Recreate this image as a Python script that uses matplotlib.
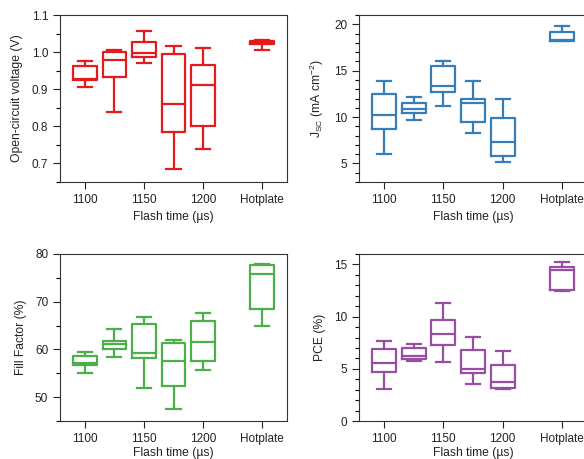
import matplotlib
matplotlib.use("Agg")
import matplotlib.pyplot as plt
from matplotlib.ticker import MultipleLocator, FormatStrFormatter

plt.rcParams['font.family'] = ['Liberation Sans', 'DejaVu Sans']

# categories
positions = [1100, 1125, 1150, 1175, 1200, 1250]
tick_pos = [1100, 1150, 1200, 1250]
tick_labels = ['1100', '1150', '1200', 'Hotplate']

# Open-circuit voltage (V)
voc_lo = [0.906, 0.839, 0.972, 0.684, 0.739, 1.007]
voc_q1 = [0.924, 0.932, 0.986, 0.785, 0.801, 1.023]
voc_med = [0.928, 0.980, 0.998, 0.861, 0.911, 1.026]
voc_q3 = [0.962, 0.999, 1.028, 0.994, 0.965, 1.030]
voc_hi = [0.976, 1.006, 1.057, 1.017, 1.010, 1.032]

# Jsc (mA cm-2)
jsc_lo = [5.98, 9.67, 11.2, 8.26, 5.14, 18.15]
jsc_q1 = [8.70, 10.47, 12.68, 9.42, 5.76, 18.25]
jsc_med = [10.22, 10.9, 13.37, 11.49, 7.32, 18.35]
jsc_q3 = [12.46, 11.52, 15.47, 11.92, 9.93, 19.13]
jsc_hi = [13.84, 12.14, 16.09, 13.88, 11.96, 19.82]

# Fill factor (%)
ff_lo = [55.05, 58.43, 51.9, 47.6, 55.6, 64.89]
ff_q1 = [56.67, 60.11, 58.29, 52.24, 57.51, 68.48]
ff_med = [57.16, 61.1, 59.34, 57.51, 61.52, 75.71]
ff_q3 = [58.57, 61.73, 65.31, 61.38, 66.0, 77.75]
ff_hi = [59.48, 64.19, 66.72, 62.08, 67.7, 77.82]

# PCE (%)
pce_lo = [3.02, 5.72, 5.68, 3.5, 3.05, 12.49]
pce_q1 = [4.69, 5.94, 7.29, 4.56, 3.18, 12.59]
pce_med = [5.52, 6.23, 8.32, 4.95, 3.76, 14.5]
pce_q3 = [6.87, 7.0, 9.70, 6.81, 5.36, 14.74]
pce_hi = [7.68, 7.35, 11.31, 8.09, 6.74, 15.22]

W, H = 584, 459
fig = plt.figure(figsize=(W / 100, H / 100), dpi=100)


def axpix(l, r, t, b):
    return fig.add_axes([l / W, (H - b) / H, (r - l) / W, (b - t) / H])


def panel(ax, lo, q1, med, q3, hi, color, ylim, major, minor, ylabel, xpad=4):
    stats = [dict(whislo=a, q1=b, med=c, q3=d, whishi=e, fliers=[])
             for a, b, c, d, e in zip(lo, q1, med, q3, hi)]
    lw = 1.6
    ax.bxp(stats, positions=positions, widths=20, showfliers=False,
           boxprops=dict(color=color, linewidth=lw),
           medianprops=dict(color=color, linewidth=lw),
           whiskerprops=dict(color=color, linewidth=lw),
           capprops=dict(color=color, linewidth=lw),
           capwidths=12, manage_ticks=False)
    ax.set_xlim(1079, 1271)
    ax.set_ylim(*ylim)
    ax.set_xticks(tick_pos)
    ax.set_xticklabels(tick_labels)
    ax.yaxis.set_major_locator(MultipleLocator(major))
    ax.yaxis.set_minor_locator(MultipleLocator(minor))
    ax.tick_params(axis='both', which='major', direction='out', length=5,
                   width=0.8, labelsize=8.5, colors='#222222')
    ax.tick_params(axis='y', which='minor', direction='out', length=3, width=0.8)
    ax.tick_params(axis='x', which='minor', bottom=False)
    for s in ax.spines.values():
        s.set_linewidth(0.8)
        s.set_color('#333333')
    ax.set_xlabel('Flash time (µs)', fontsize=8.7, color='#222222', labelpad=xpad)
    ax.set_ylabel(ylabel, fontsize=8.7, color='#222222', labelpad=6)


ax1 = axpix(60, 287, 15, 182)
panel(ax1, voc_lo, voc_q1, voc_med, voc_q3, voc_hi, '#e41a1c', (0.65, 1.1), 0.1, 0.05,
      'Open-circuit voltage (V)')
ax1.yaxis.set_major_formatter(FormatStrFormatter('%.1f'))

ax2 = axpix(359, 587, 15, 182)
panel(ax2, jsc_lo, jsc_q1, jsc_med, jsc_q3, jsc_hi, '#377eb8', (3, 21), 5, 1,
      r'J$_{\mathregular{SC}}$ (mA cm$^{\mathregular{-2}}$)')

ax3 = axpix(60, 287, 254, 421)
panel(ax3, ff_lo, ff_q1, ff_med, ff_q3, ff_hi, '#4daf4a', (45, 80), 10, 5,
      'Fill Factor (%)', xpad=1.5)

ax4 = axpix(359, 587, 254, 421)
panel(ax4, pce_lo, pce_q1, pce_med, pce_q3, pce_hi, '#984ea3', (0, 16), 5, 1,
      'PCE (%)', xpad=1.5)

fig.savefig('out.png', dpi=100)
